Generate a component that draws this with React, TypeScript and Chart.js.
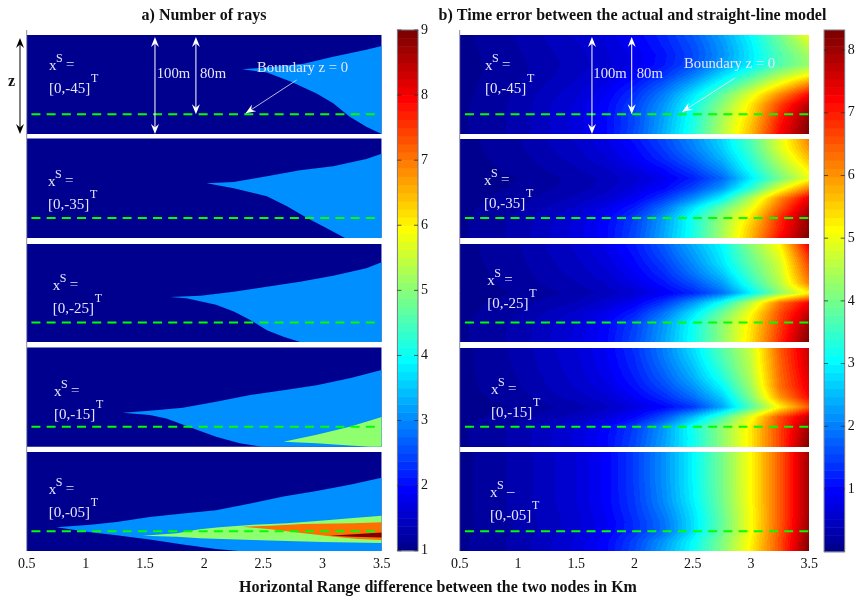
import React, { useEffect, useRef } from "react";
import { Chart, registerables } from "chart.js";

Chart.register(...registerables);

// ---------- data ----------
const xTicks = [0.5, 1, 1.5, 2, 2.5, 3, 3.5];
const raysTicks = [1, 2, 3, 4, 5, 6, 7, 8, 9];
const errTicks = [1, 2, 3, 4, 5, 6, 7, 8];
const sources = ["-45", "-35", "-25", "-15", "-05"];
const boundaryDepth = 80;

// Number-of-rays regions: [range km, depth m] edges, value = rays
const p1Rays3Upper = [[2.32, 34.7], [2.5, 33], [2.84, 29], [3.09, 22], [3.37, 15], [3.5, 11]];
const p1Rays3Lower = [[2.32, 34.7], [2.53, 38], [2.73, 47], [2.95, 59], [3.09, 69], [3.23, 82.5], [3.37, 92.6], [3.5, 100]];
const p2Rays3Upper = [[2.02, 45], [2.25, 43.8], [2.53, 38], [2.81, 32], [3.09, 28], [3.37, 20.7], [3.5, 15.4]];
const p2Rays3Lower = [[2.02, 45], [2.25, 50], [2.53, 58], [2.7, 68], [2.87, 80], [3.0, 88], [3.19, 100], [3.5, 100]];
const p3Rays3Upper = [[1.71, 54], [1.97, 52.7], [2.25, 48.6], [2.53, 43.5], [2.81, 38.4], [3.09, 32.3], [3.37, 24.8], [3.5, 18.7]];
const p3Rays3Lower = [[1.71, 54], [1.85, 55.4], [2.1, 62], [2.25, 69], [2.39, 77.5], [2.53, 88], [2.67, 94.6], [2.81, 100], [3.5, 100]];
const p4Rays3Upper = [[1.31, 65.8], [1.54, 63.8], [1.82, 60.7], [2.1, 54.7], [2.39, 48], [2.67, 43], [2.95, 38], [3.23, 31], [3.5, 22.8]];
const p4Rays3Lower = [[1.31, 65.8], [1.54, 68], [1.68, 71.5], [1.88, 80.5], [2.1, 90], [2.3, 96.6], [2.49, 100], [3.5, 100]];
const p4Rays5Upper = [[2.67, 95], [2.95, 88], [3.23, 80], [3.5, 70]];
const p4Rays5Lower = [[2.67, 95], [2.95, 96.6], [3.23, 98.7], [3.4, 100], [3.5, 100]];
const p5Rays3Upper = [[0.75, 75.9], [1.04, 73.5], [1.26, 70.7], [1.54, 65.6], [1.82, 62], [2.1, 58.8], [2.39, 52], [2.67, 45], [2.95, 39.5], [3.23, 33], [3.5, 25.9]];
const p5Rays3Lower = [[0.75, 75.9], [1.04, 81], [1.26, 84], [1.54, 88.4], [1.82, 93.5], [2.1, 98], [2.29, 100], [3.5, 100]];
const p5Rays5Upper = [[1.48, 84.7], [1.77, 82], [1.96, 78], [2.13, 76], [2.41, 73.5], [2.7, 72], [2.98, 69.4], [3.26, 66.6], [3.5, 64.3]];
const p5Rays5Lower = [[1.48, 84.7], [1.77, 85.7], [1.96, 87], [2.41, 89], [2.7, 90], [3.0, 91], [3.5, 92]];
const p5Rays7Upper = [[2.32, 75.5], [2.56, 74.5], [2.84, 72.7], [3.26, 72], [3.5, 71]];
const p5Rays7Lower = [[2.32, 75.5], [2.56, 78], [2.84, 82], [3.1, 85.7], [3.3, 88], [3.5, 89]];
const p5Rays9Upper = [[3.06, 84.7], [3.26, 83], [3.5, 81.3]];
const p5Rays9Lower = [[3.06, 84.7], [3.26, 85.7], [3.5, 86.4]];

// Time error samples: rows = depth, columns = range
const errRange = [0.5, 1, 1.5, 1.75, 2, 2.25, 2.5, 2.75, 3, 3.25, 3.5];
const errDepth = [0, 10, 20, 30, 40, 50, 60, 70, 80, 90, 100];
const errP1 = [
  [0.08, 0.28, 0.55, 0.7, 0.95, 1.25, 1.7, 2.3, 3.05, 4.0, 5.05],
  [0.08, 0.26, 0.5, 0.65, 0.88, 1.2, 1.6, 2.2, 2.95, 3.85, 4.7],
  [0.07, 0.24, 0.47, 0.62, 0.82, 1.12, 1.55, 2.15, 2.9, 3.7, 4.4],
  [0.07, 0.22, 0.45, 0.6, 0.82, 1.15, 1.6, 2.25, 2.95, 3.7, 4.3],
  [0.07, 0.22, 0.48, 0.65, 0.95, 1.35, 1.95, 2.75, 3.55, 4.4, 5.1],
  [0.08, 0.25, 0.55, 0.8, 1.15, 1.7, 2.4, 3.25, 4.2, 5.2, 6.2],
  [0.08, 0.28, 0.62, 0.9, 1.35, 2.0, 2.85, 3.85, 4.9, 6.1, 7.2],
  [0.09, 0.3, 0.68, 0.98, 1.48, 2.2, 3.1, 4.15, 5.3, 6.7, 7.8],
  [0.1, 0.3, 0.7, 1.0, 1.55, 2.3, 3.2, 4.35, 5.45, 6.95, 8.1],
  [0.1, 0.3, 0.7, 1.0, 1.55, 2.35, 3.25, 4.45, 5.6, 7.1, 8.2],
  [0.1, 0.3, 0.7, 1.0, 1.6, 2.4, 3.3, 4.5, 5.7, 7.25, 8.3],
];
const errP2 = [
  [0.07, 0.25, 0.55, 0.75, 1.1, 1.55, 2.1, 2.75, 3.7, 4.9, 6.2],
  [0.07, 0.23, 0.5, 0.7, 1.0, 1.45, 2.0, 2.65, 3.6, 4.85, 6.0],
  [0.06, 0.2, 0.45, 0.62, 0.9, 1.3, 1.8, 2.45, 3.4, 4.6, 5.7],
  [0.05, 0.17, 0.38, 0.52, 0.75, 1.05, 1.5, 2.15, 3.2, 4.3, 5.3],
  [0.04, 0.13, 0.3, 0.42, 0.6, 0.85, 1.2, 1.8, 2.9, 4.0, 5.0],
  [0.05, 0.15, 0.32, 0.45, 0.7, 1.0, 1.5, 2.2, 3.4, 4.9, 6.2],
  [0.06, 0.2, 0.42, 0.6, 0.9, 1.4, 2.1, 3.0, 4.5, 6.1, 7.4],
  [0.08, 0.25, 0.55, 0.8, 1.2, 1.9, 2.85, 3.9, 5.0, 6.5, 7.8],
  [0.1, 0.3, 0.65, 0.95, 1.45, 2.25, 3.2, 4.3, 5.4, 6.9, 8.1],
  [0.1, 0.3, 0.7, 1.0, 1.5, 2.3, 3.2, 4.35, 5.6, 7.0, 8.2],
  [0.1, 0.3, 0.7, 1.0, 1.55, 2.35, 3.25, 4.4, 5.7, 7.2, 8.3],
];
const errP3 = [
  [0.07, 0.25, 0.55, 0.8, 1.15, 1.7, 2.4, 3.05, 4.2, 5.2, 7.4],
  [0.07, 0.24, 0.52, 0.75, 1.08, 1.6, 2.25, 2.95, 4.0, 5.0, 7.0],
  [0.07, 0.22, 0.48, 0.68, 1.0, 1.45, 2.1, 2.85, 3.85, 4.8, 6.7],
  [0.06, 0.2, 0.44, 0.6, 0.9, 1.3, 1.9, 2.6, 3.65, 4.7, 6.5],
  [0.06, 0.18, 0.38, 0.52, 0.78, 1.12, 1.6, 2.25, 3.4, 4.55, 6.2],
  [0.05, 0.14, 0.3, 0.42, 0.62, 0.9, 1.25, 1.85, 2.95, 4.2, 5.2],
  [0.07, 0.2, 0.4, 0.6, 0.9, 1.4, 2.2, 3.2, 4.6, 6.3, 7.3],
  [0.08, 0.25, 0.55, 0.8, 1.2, 1.9, 2.8, 3.9, 5.1, 6.6, 7.7],
  [0.1, 0.3, 0.65, 0.95, 1.45, 2.2, 3.1, 4.2, 5.3, 6.7, 8.0],
  [0.1, 0.3, 0.68, 0.98, 1.5, 2.25, 3.15, 4.2, 5.35, 6.8, 8.15],
  [0.1, 0.3, 0.7, 1.0, 1.55, 2.3, 3.15, 4.2, 5.4, 6.9, 8.3],
];
const errP4 = [
  [0.08, 0.3, 0.65, 0.9, 1.35, 2.0, 2.8, 3.75, 4.7, 6.5, 7.7],
  [0.08, 0.29, 0.62, 0.88, 1.3, 1.95, 2.7, 3.65, 4.65, 6.45, 7.65],
  [0.08, 0.28, 0.6, 0.85, 1.25, 1.85, 2.55, 3.5, 4.6, 6.4, 7.6],
  [0.08, 0.26, 0.57, 0.8, 1.18, 1.72, 2.4, 3.3, 4.5, 6.35, 7.5],
  [0.08, 0.24, 0.53, 0.72, 1.08, 1.55, 2.15, 3.0, 4.35, 6.3, 7.4],
  [0.07, 0.2, 0.45, 0.62, 0.92, 1.3, 1.85, 2.65, 4.1, 6.0, 7.2],
  [0.06, 0.14, 0.32, 0.48, 0.72, 0.98, 1.4, 2.3, 3.7, 5.2, 6.5],
  [0.08, 0.2, 0.45, 0.65, 1.0, 1.6, 2.5, 3.6, 5.0, 6.6, 7.7],
  [0.1, 0.3, 0.65, 0.95, 1.45, 2.2, 3.2, 4.2, 5.3, 6.7, 8.0],
  [0.1, 0.3, 0.68, 1.0, 1.5, 2.25, 3.15, 4.2, 5.3, 6.7, 8.15],
  [0.1, 0.3, 0.7, 1.0, 1.55, 2.3, 3.15, 4.2, 5.3, 6.7, 8.3],
];
const errP5 = [
  [0.08, 0.3, 0.65, 0.95, 1.45, 2.15, 3.0, 4.0, 5.15, 6.5, 8.0],
  [0.08, 0.3, 0.65, 0.95, 1.45, 2.15, 3.0, 4.0, 5.15, 6.5, 8.0],
  [0.08, 0.3, 0.65, 0.95, 1.45, 2.15, 3.0, 4.0, 5.15, 6.5, 8.0],
  [0.08, 0.3, 0.65, 0.95, 1.45, 2.15, 3.0, 4.0, 5.15, 6.5, 8.0],
  [0.08, 0.3, 0.65, 0.95, 1.44, 2.12, 2.98, 3.98, 5.15, 6.5, 8.0],
  [0.08, 0.3, 0.65, 0.95, 1.42, 2.1, 2.95, 3.95, 5.15, 6.5, 8.0],
  [0.08, 0.3, 0.62, 0.92, 1.38, 2.0, 2.85, 3.9, 5.1, 6.5, 8.0],
  [0.08, 0.28, 0.6, 0.88, 1.32, 1.9, 2.8, 3.85, 5.1, 6.5, 8.05],
  [0.08, 0.28, 0.62, 0.9, 1.32, 1.88, 2.8, 3.9, 5.1, 6.55, 8.1],
  [0.1, 0.3, 0.68, 0.98, 1.5, 2.2, 3.05, 4.05, 5.2, 6.6, 8.2],
  [0.1, 0.3, 0.7, 1.0, 1.55, 2.3, 3.1, 4.1, 5.25, 6.6, 8.3],
];

// ---------- layout ----------
const W = 855;
const H = 598;
const PANEL_Y = [[35, 134], [138.5, 238], [244, 342], [347.5, 446.7], [452, 551]];
const SERIF = '"Liberation Serif", "Times New Roman", serif';
const ANNOT = "#e6e6fa";
const LABELS_A = [[49, 70, "="], [48, 186, "="], [52.7, 290, "="], [54, 396, "="], [48.7, 494, "="]];
const LABELS_B = [[485, 69.5, "="], [484, 185, "="], [487.3, 285, "="], [491, 394, "="], [490, 497, "\u2013"]];
const BAR_W = 20.6;

// ---------- helpers ----------
function jetRGB(t: number): [number, number, number] {
  const level = Math.min(63, Math.max(0, Math.floor(t * 64)));
  const u = (level + 1) / 64;
  const c = (v: number) => Math.round(255 * Math.max(0, Math.min(1, v)));
  return [
    c(Math.min(4 * u - 1.5, -4 * u + 4.5)),
    c(Math.min(4 * u - 0.5, -4 * u + 3.5)),
    c(Math.min(4 * u + 0.5, -4 * u + 2.5)),
  ];
}
const raysColor = (v: number) => `rgb(${jetRGB((v - 1) / 8).join(",")})`;
const ERR_MAX = 8.32;

function locate(arr: number[], v: number): [number, number] {
  let i = 0;
  while (i < arr.length - 2 && v > arr[i + 1]) i++;
  const f = (v - arr[i]) / (arr[i + 1] - arr[i]);
  return [i, Math.max(0, Math.min(1, f))];
}

function regionDatasets(panel: number, value: number, upper: number[][], lower: number[][]) {
  const color = raysColor(value);
  const base = {
    type: "line",
    xAxisID: "xa",
    yAxisID: `y${panel}`,
    pointRadius: 0,
    borderWidth: 0,
    tension: 0,
    clip: false,
    backgroundColor: color,
    order: 100 - value * 10,
  };
  return [
    { ...base, fill: "+1", data: upper.map(([x, y]) => ({ x, y })) },
    { ...base, fill: false, data: lower.map(([x, y]) => ({ x, y })) },
  ];
}

function boundaryDataset(panel: number, axis: string, from: number, to: number) {
  return {
    type: "line",
    xAxisID: axis,
    yAxisID: `y${panel}`,
    pointRadius: 0,
    borderColor: "#00ff00",
    borderWidth: 2,
    borderDash: [9, 6.2],
    fill: false,
    clip: false,
    order: 0,
    data: [{ x: from, y: boundaryDepth }, { x: to, y: boundaryDepth }],
  };
}

function arrowHead(ctx: any, x: number, y: number, ang: number, len: number, half: number, color: string) {
  ctx.save();
  ctx.translate(x, y);
  ctx.rotate(ang);
  ctx.fillStyle = color;
  ctx.beginPath();
  ctx.moveTo(0, 0);
  ctx.lineTo(-len, half);
  ctx.lineTo(-len * 0.65, 0);
  ctx.lineTo(-len, -half);
  ctx.closePath();
  ctx.fill();
  ctx.restore();
}

function vArrow(ctx: any, x: number, y0: number, y1: number, color: string, lw = 1) {
  ctx.strokeStyle = color;
  ctx.lineWidth = lw;
  ctx.beginPath();
  ctx.moveTo(x, y0 + 3);
  ctx.lineTo(x, y1 - 3);
  ctx.stroke();
  arrowHead(ctx, x, y0, -Math.PI / 2, 10, 4, color);
  arrowHead(ctx, x, y1, Math.PI / 2, 10, 4, color);
}

function slantArrow(ctx: any, x0: number, y0: number, x1: number, y1: number) {
  ctx.strokeStyle = ANNOT;
  ctx.lineWidth = 0.8;
  ctx.beginPath();
  ctx.moveTo(x0, y0);
  ctx.lineTo(x1, y1);
  ctx.stroke();
  arrowHead(ctx, x1, y1, Math.atan2(y1 - y0, x1 - x0), 10, 4, "#ffffff");
}

function sourceLabel(ctx: any, x: number, y: number, eq: string, src: string) {
  ctx.fillStyle = ANNOT;
  ctx.textAlign = "left";
  ctx.textBaseline = "alphabetic";
  ctx.font = `15px ${SERIF}`;
  ctx.fillText("x", x, y);
  ctx.fillText(eq, x + 17, y - 1);
  ctx.fillText(`[0,${src}]`, x, y + 23);
  ctx.font = `12px ${SERIF}`;
  ctx.fillText("S", x + 7, y - 8);
  ctx.fillText("T", x + 42, y + 12);
}

const figurePlugin = {
  id: "figure",
  afterLayout(chart: any) {
    const s = chart.scales;
    const place = (sc: any, l: number, t: number, r: number, b: number) => {
      sc.left = l; sc.top = t; sc.right = r; sc.bottom = b;
      sc.width = r - l; sc.height = b - t;
      sc.configure();
    };
    PANEL_Y.forEach(([t, b], i) => place(s[`y${i + 1}`], 27, t, 382, b));
    place(s.xa, 26.7, 551, 381.7, 575);
    place(s.xb, 459.7, 551, 809.3, 575);
    place(s.ca, 418, 30, 440, 550.7);
    place(s.cb, 844.7, 30, 855, 551.7);
    chart.chartArea = { left: 0, top: 0, right: W, bottom: H, width: W, height: H };
  },
  beforeDatasetsDraw(chart: any) {
    const { ctx, scales: s } = chart;
    ctx.save();
    // heat maps of the time error, through the scales
    [errP1, errP2, errP3, errP4, errP5].forEach((grid, p) => {
      const ys = s[`y${p + 1}`];
      const x0 = Math.round(s.xb.left), x1 = Math.round(s.xb.right);
      const y0 = Math.round(ys.top), y1 = Math.round(ys.bottom);
      const w = x1 - x0, h = y1 - y0;
      const img = ctx.createImageData(w, h);
      for (let py = 0; py < h; py++) {
        const [ri, rf] = locate(errDepth, ys.getValueForPixel(y0 + py + 0.5));
        for (let px = 0; px < w; px++) {
          const [ci, cf] = locate(errRange, s.xb.getValueForPixel(x0 + px + 0.5));
          const v =
            grid[ri][ci] * (1 - rf) * (1 - cf) +
            grid[ri][ci + 1] * (1 - rf) * cf +
            grid[ri + 1][ci] * rf * (1 - cf) +
            grid[ri + 1][ci + 1] * rf * cf;
          const [r, g, b] = jetRGB(v / ERR_MAX);
          const k = (py * w + px) * 4;
          img.data[k] = r; img.data[k + 1] = g; img.data[k + 2] = b; img.data[k + 3] = 255;
        }
      }
      ctx.putImageData(img, x0, y0);
    });
    // colour bars: the scale sits on the right edge of its bar
    [s.ca, s.cb].forEach((c: any) => {
      const left = c.left - BAR_W;
      const range = c.max - c.min;
      for (let i = 0; i < 64; i++) {
        const top = c.getPixelForValue(c.min + (range * (i + 1)) / 64);
        const bot = c.getPixelForValue(c.min + (range * i) / 64);
        ctx.fillStyle = `rgb(${jetRGB((i + 0.5) / 64).join(",")})`;
        ctx.fillRect(left, top, BAR_W, bot - top + 0.5);
      }
      ctx.strokeStyle = "#77777f";
      ctx.lineWidth = 1;
      ctx.strokeRect(left, c.top, BAR_W, c.bottom - c.top);
      ctx.strokeStyle = "rgba(40,40,40,0.75)";
      c.ticks.forEach((t: any) => {
        const y = c.getPixelForValue(t.value);
        ctx.beginPath();
        ctx.moveTo(left, y); ctx.lineTo(left + 4, y);
        ctx.moveTo(c.left, y); ctx.lineTo(c.left - 4, y);
        ctx.stroke();
      });
    });
    ctx.restore();
  },
  afterDraw(chart: any) {
    const { ctx, scales: s } = chart;
    ctx.save();
    // left axis lines
    ctx.strokeStyle = "#8c8ca8";
    ctx.lineWidth = 1;
    [s.xa.left, s.xb.left].forEach((x: number) => {
      ctx.beginPath();
      ctx.moveTo(x, 30);
      ctx.lineTo(x, 551);
      ctx.stroke();
    });
    // depth arrows on the first panel
    const y = s.y1;
    const top = y.getPixelForValue(2);
    vArrow(ctx, s.xa.getPixelForValue(1.584), top, y.getPixelForValue(100), "#ffffff");
    vArrow(ctx, s.xa.getPixelForValue(1.93), top, y.getPixelForValue(boundaryDepth), "#ffffff");
    vArrow(ctx, s.xb.getPixelForValue(1.635), top, y.getPixelForValue(100), "#ffffff");
    vArrow(ctx, s.xb.getPixelForValue(1.976), top, y.getPixelForValue(boundaryDepth), "#ffffff");
    vArrow(ctx, 20, 38, 134, "#000000");
    slantArrow(ctx, 296.7, 80, 245.7, 113.3);
    slantArrow(ctx, 735, 78, 682.3, 111.7);

    // annotation text
    ctx.fillStyle = ANNOT;
    ctx.textBaseline = "alphabetic";
    ctx.textAlign = "left";
    ctx.font = `14.7px ${SERIF}`;
    ctx.fillText("100m", 156.7, 78);
    ctx.fillText("80m", 200, 78);
    ctx.fillText("100m", 593.3, 78);
    ctx.fillText("80m", 636.7, 78);
    ctx.fillText("Boundary z = 0", 257, 72);
    ctx.fillText("Boundary z = 0", 684, 68);
    LABELS_A.forEach(([x, yy, eq]: any, i) => sourceLabel(ctx, x, yy, eq, sources[i]));
    LABELS_B.forEach(([x, yy, eq]: any, i) => sourceLabel(ctx, x, yy, eq, sources[i]));

    // titles
    ctx.fillStyle = "#111111";
    ctx.font = `bold 16px ${SERIF}`;
    ctx.textAlign = "center";
    ctx.fillText("a) Number of rays", 204, 20);
    ctx.fillText("b) Time error between the actual and straight-line model", 632.5, 20);
    ctx.fillText("Horizontal Range difference between the two nodes in Km", 438, 592);
    ctx.textAlign = "left";
    ctx.fillText("z", 8, 86);
    ctx.restore();
  },
};

function tickOptions() {
  return {
    font: { family: SERIF, size: 14 },
    color: "#111111",
    autoSkip: false,
    maxRotation: 0,
    minRotation: 0,
    padding: 5,
    callback: (v: number) => String(v),
  };
}

export default function App() {
  const ref = useRef<HTMLCanvasElement | null>(null);
  useEffect(() => {
    if (!ref.current) return;
    const backgroundUpper = [[0.5, 0], [3.5, 0]];
    const backgroundLower = [[0.5, 100], [3.5, 100]];
    const datasets: any[] = [
      ...[1, 2, 3, 4, 5].flatMap((p) => regionDatasets(p, 1, backgroundUpper, backgroundLower)),
      ...regionDatasets(1, 3, p1Rays3Upper, p1Rays3Lower),
      ...regionDatasets(2, 3, p2Rays3Upper, p2Rays3Lower),
      ...regionDatasets(3, 3, p3Rays3Upper, p3Rays3Lower),
      ...regionDatasets(4, 3, p4Rays3Upper, p4Rays3Lower),
      ...regionDatasets(4, 5, p4Rays5Upper, p4Rays5Lower),
      ...regionDatasets(5, 3, p5Rays3Upper, p5Rays3Lower),
      ...regionDatasets(5, 5, p5Rays5Upper, p5Rays5Lower),
      ...regionDatasets(5, 7, p5Rays7Upper, p5Rays7Lower),
      ...regionDatasets(5, 9, p5Rays9Upper, p5Rays9Lower),
      ...[1, 2, 3, 4, 5].map((p) => boundaryDataset(p, "xa", 0.54, 3.46)),
      ...[1, 2, 3, 4, 5].map((p) => boundaryDataset(p, "xb", 0.545, 3.5)),
    ];
    const depthAxis = (id: string) => ({
      [id]: { type: "linear", axis: "y", display: false, min: 0, max: 100, reverse: true },
    });
    const rangeAxis = {
      type: "linear",
      axis: "x",
      position: "bottom",
      min: 0.5,
      max: 3.5,
      grid: { display: false, drawTicks: false },
      border: { display: false },
      afterBuildTicks: (sc: any) => { sc.ticks = xTicks.map((value) => ({ value })); },
      ticks: tickOptions(),
    };
    const barAxis = (min: number, max: number, ticks: number[]) => ({
      type: "linear",
      axis: "y",
      position: "right",
      min,
      max,
      grid: { display: false, drawTicks: false },
      border: { display: false },
      afterBuildTicks: (sc: any) => { sc.ticks = ticks.map((value) => ({ value })); },
      ticks: { ...tickOptions(), padding: 3 },
    });
    const chart = new Chart(ref.current, {
      type: "line",
      data: { datasets },
      options: {
        responsive: false,
        animation: false,
        devicePixelRatio: 1,
        parsing: true,
        normalized: true,
        layout: { padding: 0 },
        plugins: { legend: { display: false }, tooltip: { enabled: false }, title: { display: false } },
        scales: {
          xa: rangeAxis,
          xb: rangeAxis,
          ...depthAxis("y1"),
          ...depthAxis("y2"),
          ...depthAxis("y3"),
          ...depthAxis("y4"),
          ...depthAxis("y5"),
          ca: barAxis(1, 9, raysTicks),
          cb: barAxis(0, ERR_MAX, errTicks),
        },
      } as any,
      plugins: [figurePlugin],
    } as any);
    return () => chart.destroy();
  }, []);
  return (
    <canvas
      ref={ref}
      width={W}
      height={H}
      style={{ position: "absolute", left: 0, top: 0, display: "block", background: "#fff" }}
    />
  );
}
